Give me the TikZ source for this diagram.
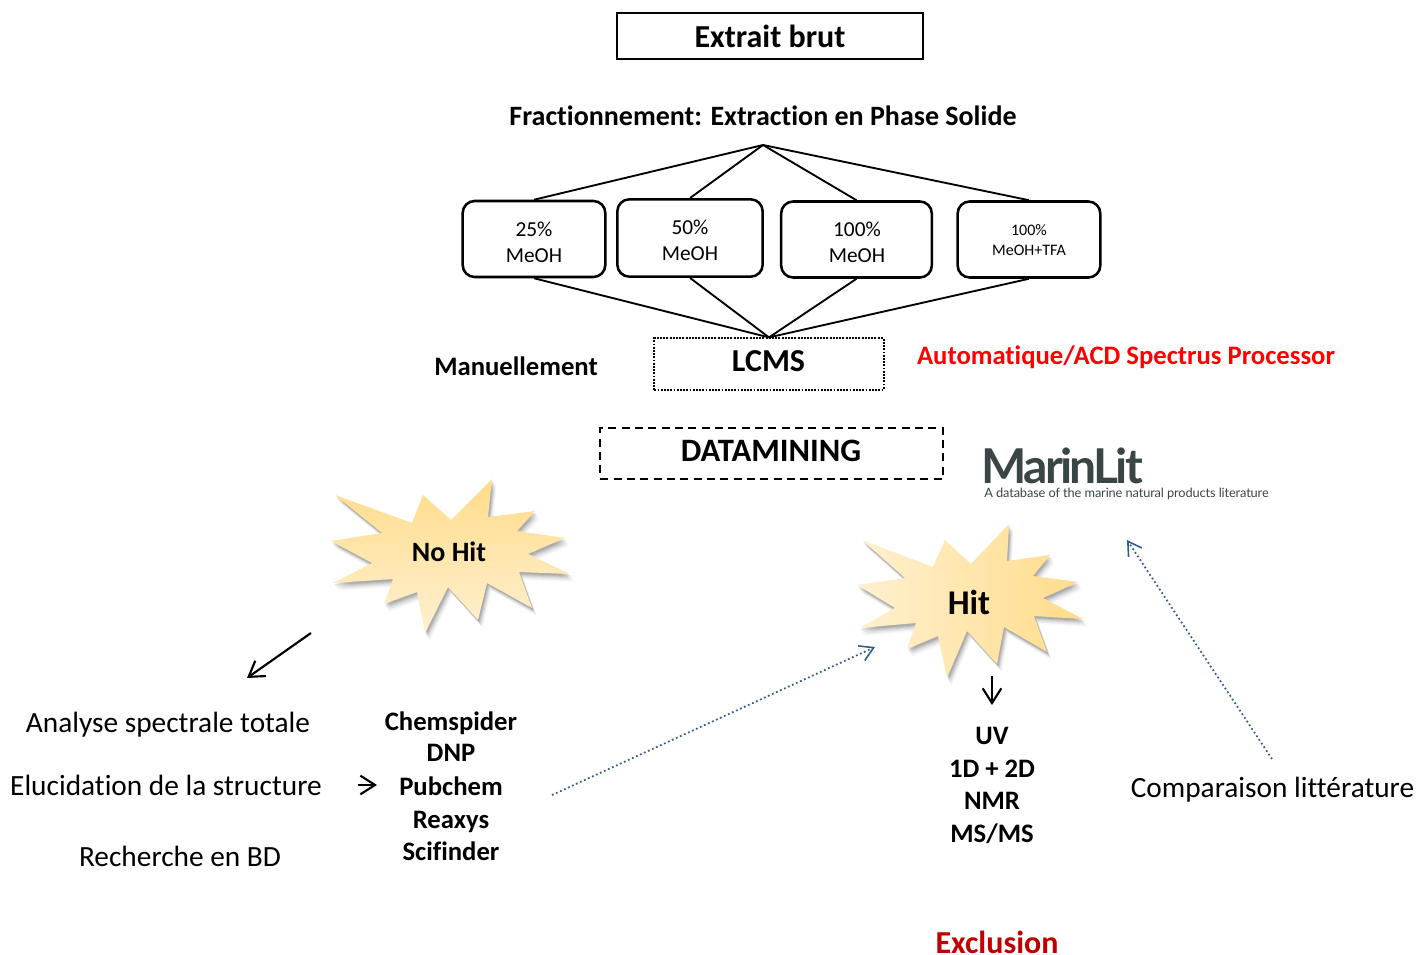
\documentclass[tikz,border=0pt]{standalone}
\usepackage{fontspec}
\setmainfont[Ligatures=NoCommon]{Carlito}
\newfontfamily\logofont[LetterSpace=-5.6]{Lato}
\newfontfamily\logosub[LetterSpace=-1]{Lato}
\usetikzlibrary{arrows.meta,calc}
\definecolor{logogrey}{HTML}{3A4545}
\definecolor{arrowblue}{HTML}{2F5C94}
\definecolor{redtxt}{HTML}{FF0000}
\definecolor{darkred}{HTML}{C00000}
\definecolor{stardark}{HTML}{FFDC8A}
\definecolor{starlight}{HTML}{FFF0D0}
\newcommand{\fsz}[1]{\fontsize{#1}{#1}\selectfont}
\tikzset{
  x=0.75pt,y=-0.75pt,
  lbl/.style={inner sep=0pt,align=center,text=black},
  frac/.style={draw=black,line width=1.9pt,rounded corners=9pt,minimum height=57pt,inner sep=0pt},
  link/.style={draw=black,line width=1.4pt},
  barb/.style={-{Straight Barb[length=11pt,width=14pt,line width=1.6pt]},black,line width=1.6pt},
  dotarrow/.style={-{Straight Barb[length=10pt,width=12pt,line width=1.2pt]},arrowblue,line width=1.3pt,dotted},
}
\begin{document}
\begin{tikzpicture}
\useasboundingbox (0,0) rectangle (1418,955);

% Top
\node[draw=black,line width=1.6pt,minimum width=229pt,minimum height=34pt,inner sep=0pt,font=\fsz{24}\bfseries] (extrait) at (770,36) {Extrait brut};
\node[lbl,font=\fsz{21}\bfseries] (fraction) at (763,116) {Fractionnement: Extraction en Phase Solide};
\coordinate (apex) at (763,145);

% Fractions
\node[frac,minimum width=107pt] (f25) at (534,239) {};
\node[frac,minimum width=109pt,minimum height=58pt] (f50) at (690,238) {};
\node[frac,minimum width=113pt] (f100) at (856.5,239.5) {};
\node[frac,minimum width=107pt] (ftfa) at (1029,239.5) {};
\node[lbl,font=\fsz{16}] (t25) at (534,242.5) {25\%\\[3.5pt]MeOH};
\node[lbl,font=\fsz{16}] (t50) at (690,240.5) {50\%\\[3.5pt]MeOH};
\node[lbl,font=\fsz{16}] (t100) at (857,242.5) {100\%\\[3.5pt]MeOH};
\node[lbl,font=\fsz{12}] (ttfa) at (1029,240) {100\%\\[3pt]MeOH+TFA};

% LCMS
\node[draw=black,line width=1.4pt,densely dotted,minimum width=172pt,minimum height=38.5pt,inner sep=0pt] (lcms) at (769,364) {};
\node[lbl,font=\fsz{24}\bfseries] (lcmst) at (768.5,361) {LCMS};
\node[lbl,font=\fsz{20}\bfseries] (man) at (516,366) {Manuellement};
\node[lbl,font=\fsz{20}\bfseries,text=redtxt] (auto) at (1126,357.5) {Automatique/ACD Spectrus Processor};

\foreach \b in {f25,f50,f100,ftfa}{
  \draw[link] (\b.north) -- (apex);
  \draw[link] (\b.south) -- (lcms.north);
}

% Datamining
\node[draw=black,line width=1.4pt,dash pattern=on 6pt off 4pt,minimum width=257pt,minimum height=38pt,inner sep=0pt] (data) at (771.5,453.5) {};
\node[lbl,font=\fsz{24.5}\bfseries] (datat) at (771,450.5) {DATAMINING};

% MarinLit logo
\node[lbl,anchor=west,font=\logofont\bfseries\fsz{36},text=logogrey] (logo) at (981,466) {MarinLit};
\node[lbl,anchor=west,font=\logosub\fsz{9.6},text=logogrey] (logosub) at (984,494) {A database of the marine natural products literature};

% No Hit star
\def\nohit{(335,495) -- (412,523) -- (423,495) -- (451,520) -- (492,479) -- (488,517) -- (535,511) -- (517,531) -- (565,538) -- (528,554) -- (570,574) -- (519,572) -- (532,608) -- (487,583) -- (478,620) -- (448,587) -- (425,633) -- (417,592) -- (384,604) -- (393,579) -- (333,583) -- (372,563) -- (331,541) -- (382,533) -- cycle}
\foreach \o/\a in {8/0.02,7/0.03,6/0.04,5/0.05,4/0.06,3/0.08,2/0.1}{
  \fill[black,opacity=\a,shift={(\o*0.6,\o)}] \nohit;
}
\shade[top color=stardark,bottom color=starlight] \nohit;
\node[lbl,font=\fsz{21}\bfseries] (nohitt) at (449,552) {No Hit};

% Hit star
\def\hit{(862,540) -- (933,567) -- (945,540) -- (971,564) -- (1009,524) -- (1007,561) -- (1050,555) -- (1033,576) -- (1078,582) -- (1043,598) -- (1083,619) -- (1034,616) -- (1047,652) -- (1004,627) -- (997,664) -- (967,631) -- (947,678) -- (938,636) -- (907,649) -- (916,623) -- (859,628) -- (895,608) -- (857,585) -- (905,578) -- cycle}
\foreach \o/\a in {8/0.02,7/0.03,6/0.04,5/0.05,4/0.06,3/0.08,2/0.1}{
  \fill[black,opacity=\a,shift={(\o*0.6,\o)}] \hit;
}
\shade[left color=starlight,right color=stardark] \hit;
\node[lbl,font=\fsz{26}\bfseries] (hitt) at (969,602) {Hit};

% Left texts
\node[lbl,font=\fsz{22}] (analyse) at (168,725) {Analyse spectrale totale};
\node[lbl,font=\fsz{22}] (eluc) at (166,785) {Elucidation de la structure};
\node[lbl,font=\fsz{22}] (rech) at (180,856) {Recherche en BD};

% Databases
\node[lbl,font=\fsz{20}\bfseries] (chem) at (451,723) {Chemspider};
\node[lbl,font=\fsz{20}\bfseries] (dnp) at (451,753) {DNP};
\node[lbl,font=\fsz{20}\bfseries] (pub) at (451,786) {Pubchem};
\node[lbl,font=\fsz{20}\bfseries] (reax) at (451,822) {Reaxys};
\node[lbl,font=\fsz{20}\bfseries] (sci) at (451,851) {Scifinder};

% Hit list
\node[lbl,font=\fsz{20}\bfseries] (uv) at (992,736) {UV};
\node[lbl,font=\fsz{20}\bfseries] (d12) at (992,769) {1D + 2D};
\node[lbl,font=\fsz{20}\bfseries] (nmr) at (992,801) {NMR};
\node[lbl,font=\fsz{20}\bfseries] (msms) at (992,834) {MS/MS};

\node[lbl,font=\fsz{22}] (comp) at (1272.5,790) {Comparaison littérature};
\node[lbl,font=\fsz{24}\bfseries,text=darkred] (excl) at (997,942.5) {Exclusion};

% Arrows
\coordinate (a1s) at (311,633); \coordinate (a1e) at (247,678);
\draw[barb] (a1s) -- (a1e);
\coordinate (a2s) at (358,785); \coordinate (a2e) at (377,785);
\draw[barb] (a2s) -- (a2e);
\coordinate (a3s) at (992,676); \coordinate (a3e) at (992,705);
\draw[barb] (a3s) -- (a3e);
\coordinate (a4s) at (552,795); \coordinate (a4e) at (875,647);
\draw[dotarrow] (a4s) -- (a4e);
\coordinate (a5s) at (1272,759); \coordinate (a5e) at (1127,540);
\draw[dotarrow] (a5s) -- (a5e);
\end{tikzpicture}
\end{document}
